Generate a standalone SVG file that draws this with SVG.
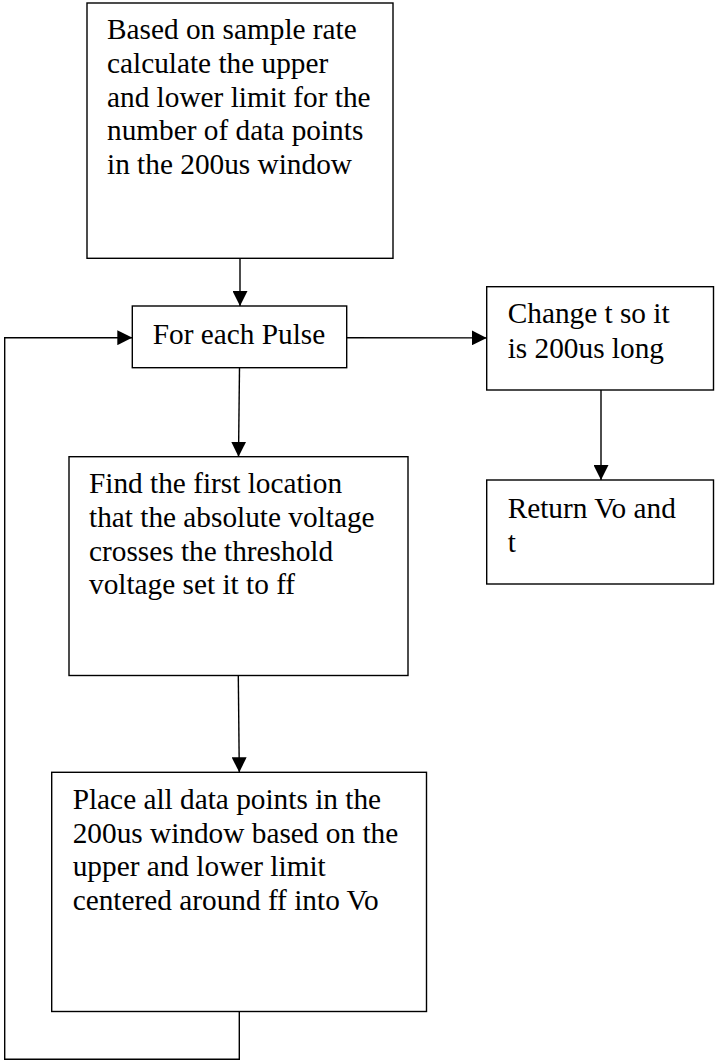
<svg xmlns="http://www.w3.org/2000/svg" width="715" height="1061" viewBox="0 0 715 1061">
  <style>
    .box { fill: #ffffff; stroke: #000000; stroke-width: 1.4; }
    .lbl { font-family: "Liberation Serif", "Times New Roman", serif; font-size: 29.3px; fill: #000000; }
    .conn { fill: none; stroke: #000000; stroke-width: 1.4; }
  </style>
  <defs>
    <marker id="arrow" markerUnits="userSpaceOnUse" markerWidth="15" markerHeight="15" refX="15" refY="7.5" orient="auto" viewBox="0 0 15 15">
      <path d="M0,0 L15,7.5 L0,15 Z" fill="#000000"/>
    </marker>
  </defs>
  <rect width="715" height="1061" fill="#ffffff"/>

  <g id="connectors">
    <path class="conn" d="M240,258.3 L240,306" marker-end="url(#arrow)"/>
    <path class="conn" d="M239.5,367.7 L238.5,456.7" marker-end="url(#arrow)"/>
    <path class="conn" d="M238.3,675.5 L239.3,772.3" marker-end="url(#arrow)"/>
    <path class="conn" d="M239.3,1011.5 L239.3,1059.3 L4.7,1059.3 L4.7,337.7 L132.3,337.7" marker-end="url(#arrow)"/>
    <path class="conn" d="M346.7,337.7 L486.7,337.9" marker-end="url(#arrow)"/>
    <path class="conn" d="M601,390 L601,480" marker-end="url(#arrow)"/>
  </g>

  <g id="node-limits">
    <rect class="box" x="87" y="3" width="306" height="255.3"/>
    <text class="lbl" x="107" y="39.3">Based on sample rate</text>
    <text class="lbl" x="107" y="73">calculate the upper</text>
    <text class="lbl" x="107" y="106.7">and lower limit for the</text>
    <text class="lbl" x="107" y="140.4">number of data points</text>
    <text class="lbl" x="107" y="174.1">in the 200us window</text>
  </g>

  <g id="node-pulse">
    <rect class="box" x="132.3" y="306" width="214.4" height="61.7"/>
    <text class="lbl" x="152.7" y="344">For each Pulse</text>
  </g>

  <g id="node-change">
    <rect class="box" x="486.7" y="286.7" width="226.8" height="103.3"/>
    <text class="lbl" x="507.7" y="323.3">Change t so it</text>
    <text class="lbl" x="507.7" y="357.5">is 200us long</text>
  </g>

  <g id="node-return">
    <rect class="box" x="486.7" y="480" width="226.8" height="104"/>
    <text class="lbl" x="507.7" y="517.7">Return Vo and</text>
    <text class="lbl" x="507.7" y="551.7">t</text>
  </g>

  <g id="node-find">
    <rect class="box" x="69" y="456.7" width="339" height="218.8"/>
    <text class="lbl" x="89" y="493.3">Find the first location</text>
    <text class="lbl" x="89" y="527">that the absolute voltage</text>
    <text class="lbl" x="89" y="560.6">crosses the threshold</text>
    <text class="lbl" x="89" y="594.2">voltage set it to ff</text>
  </g>

  <g id="node-place">
    <rect class="box" x="51.7" y="772.3" width="374.8" height="239.2"/>
    <text class="lbl" x="72.7" y="809">Place all data points in the</text>
    <text class="lbl" x="72.7" y="842.7">200us window based on the</text>
    <text class="lbl" x="72.7" y="876.4">upper and lower limit</text>
    <text class="lbl" x="72.7" y="910.1">centered around ff into Vo</text>
  </g>
</svg>
